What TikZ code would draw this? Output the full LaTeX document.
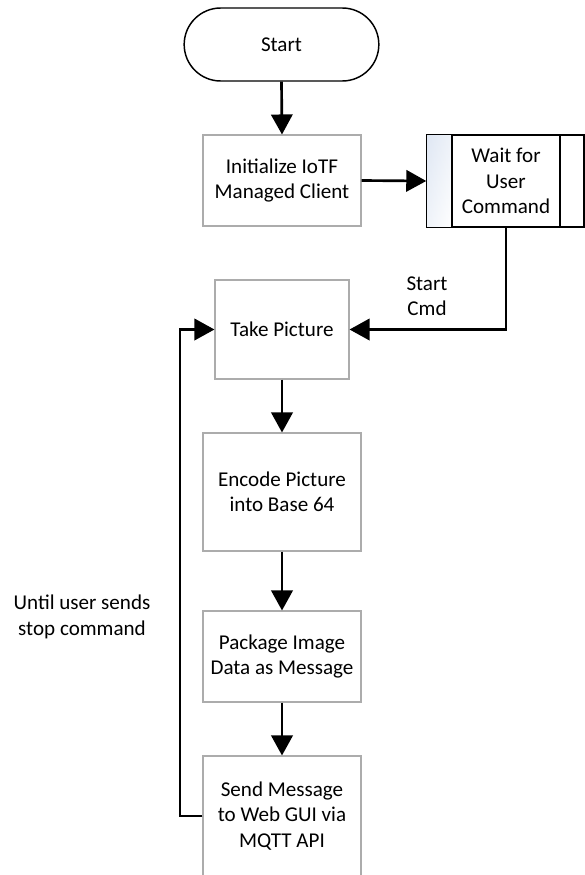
\documentclass[tikz,border=0pt]{standalone}
\usepackage{fontspec}
\setmainfont{Carlito}
\usetikzlibrary{arrows.meta,shapes.misc}
\definecolor{stripblue}{HTML}{D6E0F0}
\begin{document}
\begin{tikzpicture}[x=0.75pt,y=-0.75pt,
  font=\fontsize{15.8}{19}\selectfont,
  proc/.style={draw=gray!65, line width=0.8pt, fill=white, align=center, inner sep=0pt},
  term/.style={draw=black, line width=1.1pt, rounded rectangle, fill=white, align=center, inner sep=0pt},
  flow/.style={line width=2pt, -{Triangle[length=15pt,width=16pt]}},
  lbl/.style={align=center, inner sep=0pt}]
\clip (0,0) rectangle (585,875);
\fill[white] (0,0) rectangle (585,875);

\node[term, minimum width=146pt, minimum height=54.75pt] (start) at (281.5,44.5) {Start};
\node[proc, minimum width=118.5pt, minimum height=68.25pt] (init) at (282,180.5) {Initialize IoTF\\Managed Client};
\node[draw=black, line width=1.1pt, minimum width=117.75pt, minimum height=69pt, inner sep=0pt] (wait) at (505.5,181) {};
\shade[top color=stripblue, bottom color=white] ([xshift=0.55pt,yshift=-0.55pt]wait.north west) rectangle (452,226.4);
\shade[left color=stripblue!60, right color=white, opacity=0.6] ([xshift=0.55pt,yshift=-0.55pt]wait.north west) rectangle (452,226.4);
\draw[line width=1.1pt] (wait.north west) rectangle (wait.south east);
\draw[line width=1.1pt] (452,135) -- (452,227) (560,135) -- (560,227);
\node[lbl] (waittxt) at (506,181) {Wait for\\User\\Command};
\node[proc, minimum width=100.5pt, minimum height=74.25pt] (take) at (282,329.5) {Take Picture};
\node[proc, minimum width=118.5pt, minimum height=88.5pt] (enc) at (282,492) {Encode Picture\\into Base 64};
\node[proc, minimum width=118.5pt, minimum height=68.25pt] (pkg) at (282,656.5) {Package Image\\Data as Message};
\node[proc, minimum width=118.5pt, minimum height=93pt] (send) at (282,818) {};
\node[lbl] (sendtxt) at (282,816) {Send Message\\to Web GUI via\\MQTT API};

\node[lbl] (cmd) at (427,296) {Start\\Cmd};
\node[lbl] (until) at (82,617) {Until user sends\\stop command};

\coordinate (c1) at (180,816);
\coordinate (c2) at (180,329.5);
\coordinate (c3) at (506,329.5);

\draw[flow] (start.south) -- (init.north);
\draw[flow] (init.east) -- (wait.west);
\draw[flow] (wait.south -| c3) -- (c3) -- (take.east);
\draw[flow] (take.south) -- (enc.north);
\draw[flow] (enc.south) -- (pkg.north);
\draw[flow] (pkg.south) -- (send.north);
\draw[flow] (send.west |- c1) -- (c1) -- (c2) -- (take.west);
\end{tikzpicture}
\end{document}
